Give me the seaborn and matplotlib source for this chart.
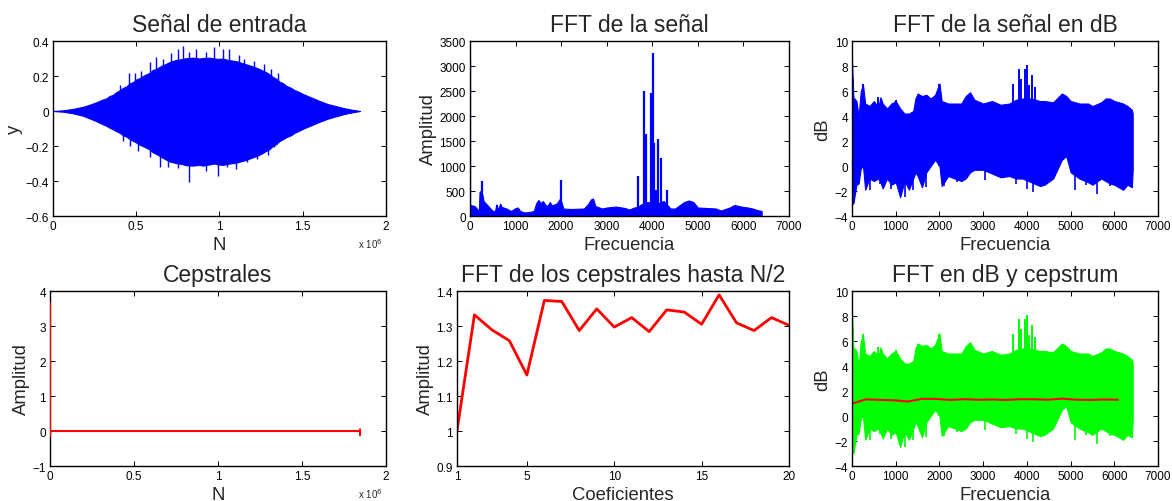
import numpy as np
import seaborn as sns
import matplotlib.pyplot as plt
from matplotlib.ticker import FuncFormatter

# ---- Senal de entrada (envolvente, N en unidades de 1e6) ----
sig_x = [0.00, 0.06, 0.12, 0.18, 0.22, 0.26, 0.30, 0.32, 0.34, 0.36, 0.38, 0.40, 0.42, 0.44,
         0.46, 0.48, 0.50, 0.52, 0.55, 0.58, 0.60, 0.62, 0.65, 0.68, 0.70, 0.74, 0.77, 0.80,
         0.84, 0.88, 0.90, 0.94, 0.97, 0.99, 1.02, 1.05, 1.10, 1.15, 1.20, 1.24, 1.28, 1.30,
         1.32, 1.34, 1.36, 1.38, 1.40, 1.43, 1.45, 1.48, 1.50, 1.55, 1.60, 1.65, 1.70, 1.75,
         1.80, 1.845]
sig_top = [0.000, 0.004, 0.012, 0.024, 0.036, 0.050, 0.066, 0.072, 0.086, 0.092, 0.108, 0.118,
           0.132, 0.140, 0.158, 0.165, 0.180, 0.188, 0.205, 0.218, 0.235, 0.240, 0.258, 0.270,
           0.280, 0.292, 0.296, 0.302, 0.305, 0.300, 0.303, 0.305, 0.300, 0.298, 0.300, 0.292,
           0.285, 0.270, 0.255, 0.240, 0.222, 0.210, 0.195, 0.185, 0.168, 0.160, 0.145, 0.132,
           0.120, 0.108, 0.098, 0.078, 0.058, 0.040, 0.028, 0.016, 0.007, 0.000]
sig_bot = [0.000, -0.004, -0.013, -0.027, -0.042, -0.058, -0.076, -0.084, -0.096, -0.104, -0.115, -0.124,
           -0.138, -0.146, -0.160, -0.170, -0.180, -0.192, -0.205, -0.220, -0.236, -0.245, -0.262, -0.278,
           -0.288, -0.298, -0.302, -0.310, -0.312, -0.308, -0.312, -0.305, -0.300, -0.305, -0.308, -0.302,
           -0.295, -0.282, -0.265, -0.250, -0.228, -0.218, -0.200, -0.190, -0.172, -0.162, -0.150, -0.138,
           -0.125, -0.112, -0.102, -0.082, -0.062, -0.044, -0.030, -0.017, -0.007, 0.000]
sig_spike_x = [0.40, 0.457, 0.49, 0.53, 0.58, 0.62, 0.66, 0.71, 0.75, 0.78, 0.82, 0.86, 0.92,
               0.97, 1.02, 1.06, 1.12, 1.15, 1.21, 1.27, 1.31, 1.35]
sig_spike_y = [0.150, 0.217, 0.220, 0.230, 0.280, 0.310, 0.300, 0.330, 0.355, 0.370, 0.335, 0.355, 0.340,
               0.365, 0.355, 0.355, 0.320, 0.300, 0.285, 0.270, 0.240, 0.220]
sig_dip_x = [0.42, 0.46, 0.51, 0.58, 0.64, 0.69, 0.75, 0.82, 0.87, 0.92, 0.99, 1.045,
             1.10, 1.165, 1.225, 1.29, 1.33]
sig_dip_y = [-0.170, -0.200, -0.230, -0.260, -0.320, -0.320, -0.325, -0.405, -0.310, -0.340, -0.370, -0.320,
             -0.330, -0.290, -0.275, -0.250, -0.205]

# ---- FFT de la senal ----
fft_f = [0, 10, 100, 150, 195, 210, 250, 300, 400, 500, 550, 580, 620, 660, 700, 800, 900,
         1000, 1050, 1100, 1200, 1300, 1400, 1450, 1500, 1550, 1600, 1650, 1700, 1750, 1800,
         1900, 1980, 2050, 2200, 2500, 2600, 2650, 2700, 2750, 2900, 3000, 3200, 3400, 3500,
         3600, 3680, 3750, 3800, 3900, 4000, 4100, 4250, 4400, 4500, 4700, 4800, 4900, 5000,
         5200, 5400, 5500, 5700, 5800, 5900, 6000, 6100, 6200, 6300, 6400]
fft_amp = [220, 220, 200, 150, 90, 480, 520, 300, 200, 100, 100, 230, 120, 250, 180, 150, 100,
           160, 170, 100, 70, 80, 100, 250, 320, 260, 300, 230, 200, 280, 210,
           250, 350, 150, 140, 150, 250, 330, 350, 200, 150, 170, 190, 160, 130,
           170, 180, 230, 250, 280, 260, 250, 300, 150, 150, 280, 310, 280, 170,
           160, 150, 110, 170, 220, 200, 180, 170, 150, 120, 100]
fft_peak_f = [0, 270, 600, 2000, 3680, 3820, 3870, 3975, 4020, 4045, 4080, 4115, 4185, 4320]
fft_peak_a = [3150, 700, 230, 720, 800, 2510, 1650, 2460, 3260, 1470, 520, 1550, 1160, 530]

# ---- FFT en dB (envolvente) ----
db_f = [0, 30, 100, 150, 200, 250, 300, 400, 500, 600, 650, 700, 800, 900, 1000, 1100,
        1200, 1300, 1400, 1450, 1500, 1600, 1700, 1800, 1900, 2000, 2050, 2200, 2500, 2600,
        2700, 2800, 3000, 3200, 3400, 3600, 3750, 3900, 4100, 4300, 4400, 4600, 4800, 4900,
        5000, 5200, 5400, 5500, 5700, 5800, 5900, 6000, 6200, 6300, 6400, 6420]
db_top = [8.3, 5.5, 5.2, 4.0, 6.0, 6.5, 5.0, 4.8, 5.2, 4.7, 5.5, 5.0, 4.6, 5.0, 5.2, 4.6,
          4.2, 4.2, 4.4, 5.4, 5.8, 5.6, 5.7, 5.4, 5.7, 6.6, 5.2, 5.0, 5.0, 5.6,
          5.9, 5.3, 5.0, 5.2, 4.9, 5.0, 5.3, 5.4, 5.4, 5.2, 5.2, 5.1, 5.8, 5.6,
          5.2, 5.0, 5.0, 4.8, 5.1, 5.4, 5.4, 5.2, 5.0, 4.8, 4.5, 4.2]
db_bot = [-3.0, -3.0, -1.5, -1.4, -0.2, 0.0, -1.9, -1.0, -1.2, -1.0, -1.3, -1.8, -1.0, -1.5, -1.3, -2.5,
          -1.2, -1.9, -1.0, -0.5, -0.8, -1.7, -0.5, 0.0, 0.5, 0.0, -1.6, -0.8, -1.2, -1.0,
          -0.5, -0.3, -0.3, -0.6, -0.9, -0.8, -1.0, -1.0, -1.3, -1.6, -1.5, -1.0, 0.5, 0.8,
          -0.5, -1.0, -1.3, -1.5, -1.0, -1.2, -1.4, -1.5, -1.9, -1.5, -1.7, -0.3]
db_peak_f = [30, 250, 600, 1000, 2000, 3680, 3820, 3870, 3950, 4010, 4050, 4110, 4180]
db_peak_v = [7.0, 6.6, 5.5, 5.3, 6.6, 6.6, 7.8, 7.0, 7.8, 8.1, 6.5, 7.3, 6.3]
db_dip_f = [50, 400, 650, 900, 1200, 1400, 1700, 2100, 2400, 3050, 3750, 4000, 4150, 4400,
            5100, 5350, 5600, 5900, 6200, 6380]
db_dip_v = [-2.9, -1.9, -1.4, -1.8, -2.5, -1.9, -1.7, -1.6, -1.3, -1.1, -1.4, -1.8, -2.1, -1.6,
            -1.9, -1.5, -2.2, -1.6, -1.9, -1.7]

# ---- Cepstrales ----
cep_x = [0.0, 0.0, 0.00001, 1.84499, 1.845, 1.845]
cep_y = [3.65, -0.15, 0.0, 0.0, -0.12, 0.05]

# ---- FFT de los cepstrales hasta N/2 ----
coef = list(range(1, 21))
coef_amp = [1.000, 1.332, 1.289, 1.258, 1.160, 1.373, 1.370, 1.287, 1.349, 1.297,
            1.324, 1.284, 1.346, 1.340, 1.305, 1.389, 1.309, 1.287, 1.324, 1.302]
coef_freq = [0, 320, 640, 960, 1280, 1600, 1920, 2240, 2560, 2880,
             3200, 3520, 3840, 4160, 4480, 4800, 5120, 5440, 5760, 6080]

BLUE = '#0000ff'
RED = '#ff0000'
GREEN = '#00ff00'

sns.set_theme(style="white")
plt.rcParams['font.family'] = ['Liberation Sans', 'DejaVu Sans']
plt.rcParams.update({
    'axes.edgecolor': 'black',
    'axes.linewidth': 1.0,
    'xtick.direction': 'in',
    'ytick.direction': 'in',
    'xtick.top': True,
    'ytick.right': True,
    'xtick.bottom': True,
    'ytick.left': True,
    'xtick.major.size': 3.5,
    'ytick.major.size': 3.5,
    'xtick.major.width': 0.7,
    'ytick.major.width': 0.7,
    'xtick.major.pad': 3,
    'ytick.major.pad': 3,
    'xtick.labelsize': 8.5,
    'ytick.labelsize': 8.5,
    'xtick.color': 'black',
    'ytick.color': 'black',
    'axes.unicode_minus': True,
})

fig = plt.figure(figsize=(11.72, 5.02), dpi=100)
ax1 = fig.add_axes([0.0452, 0.5677, 0.2841, 0.3486])
ax2 = fig.add_axes([0.4010, 0.5677, 0.2722, 0.3486])
ax3 = fig.add_axes([0.7270, 0.5677, 0.2611, 0.3486])
ax4 = fig.add_axes([0.0427, 0.0697, 0.2867, 0.3486])
ax5 = fig.add_axes([0.3899, 0.0697, 0.2833, 0.3486])
ax6 = fig.add_axes([0.7270, 0.0697, 0.2611, 0.3486])

TITLE_FS = 16.5
LABEL_FS = 13.3


def g_fmt(v, pos):
    return f'{v:g}'.replace('-', '\u2212')


def finish(ax, title, xlabel, ylabel, xlim, ylim, xticks, yticks, sci=False):
    ax.set_xlim(*xlim)
    ax.set_ylim(*ylim)
    ax.set_xticks(xticks)
    ax.set_yticks(yticks)
    ax.xaxis.set_major_formatter(FuncFormatter(g_fmt))
    ax.yaxis.set_major_formatter(FuncFormatter(g_fmt))
    ax.set_title(title, fontsize=TITLE_FS, pad=7)
    ax.set_xlabel(xlabel, fontsize=LABEL_FS, labelpad=2.5)
    ax.set_ylabel(ylabel, fontsize=LABEL_FS, labelpad=2)
    if sci:
        ax.text(0.99, -0.115, r'x 10$^{6}$', transform=ax.transAxes, ha='right', va='top', fontsize=7)
    for s in ax.spines.values():
        s.set_zorder(5)


def envelope(ax, x, top, bot, color):
    ax.fill_between(x, bot, top, color=color, lw=0.8, edgecolor=color)


# Senal de entrada
envelope(ax1, sig_x, sig_top, sig_bot, BLUE)
ax1.vlines(sig_spike_x, 0, sig_spike_y, color=BLUE, lw=1)
ax1.vlines(sig_dip_x, sig_dip_y, 0, color=BLUE, lw=1)
finish(ax1, 'Señal de entrada', 'N', 'y', (0, 2), (-0.6, 0.4),
       [0, 0.5, 1, 1.5, 2], [-0.6, -0.4, -0.2, 0, 0.2, 0.4], sci=True)

# FFT de la senal
ax2.fill_between(fft_f, 0, fft_amp, color=BLUE, lw=0.8, edgecolor=BLUE)
ax2.vlines(fft_peak_f, 0, fft_peak_a, color=BLUE, lw=1.6)
finish(ax2, 'FFT de la señal', 'Frecuencia', 'Amplitud', (0, 7000), (0, 3500),
       range(0, 7001, 1000), range(0, 3501, 500))

# FFT en dB
envelope(ax3, db_f, db_top, db_bot, BLUE)
ax3.vlines(db_peak_f, 0, db_peak_v, color=BLUE, lw=1.4)
ax3.vlines(db_dip_f, db_dip_v, 0, color=BLUE, lw=1.2)
finish(ax3, 'FFT de la señal en dB', 'Frecuencia', 'dB', (0, 7000), (-4, 10),
       range(0, 7001, 1000), range(-4, 11, 2))

# Cepstrales
sns.lineplot(x=cep_x, y=cep_y, ax=ax4, color=RED, lw=1.5, sort=False, estimator=None, zorder=6)
finish(ax4, 'Cepstrales', 'N', 'Amplitud', (0, 2), (-1, 4),
       [0, 0.5, 1, 1.5, 2], range(-1, 5), sci=True)

# FFT de los cepstrales
sns.lineplot(x=coef, y=coef_amp, ax=ax5, color=RED, lw=2)
finish(ax5, 'FFT de los cepstrales hasta N/2', 'Coeficientes', 'Amplitud', (1, 20), (0.9, 1.4),
       [1, 5, 10, 15, 20], [0.9, 1.0, 1.1, 1.2, 1.3, 1.4])

# FFT en dB y cepstrum
envelope(ax6, db_f, db_top, db_bot, GREEN)
ax6.vlines(db_peak_f, 0, db_peak_v, color=GREEN, lw=1.4)
ax6.vlines(db_dip_f, db_dip_v, 0, color=GREEN, lw=1.2)
sns.lineplot(x=coef_freq, y=coef_amp, ax=ax6, color=RED, lw=1.5)
finish(ax6, 'FFT en dB y cepstrum', 'Frecuencia', 'dB', (0, 7000), (-4, 10),
       range(0, 7001, 1000), range(-4, 11, 2))

for ax in (ax4, ax5, ax6):
    leg = ax.get_legend()
    if leg is not None:
        leg.remove()

fig.savefig('out.png', dpi=100)
plt.close(fig)
